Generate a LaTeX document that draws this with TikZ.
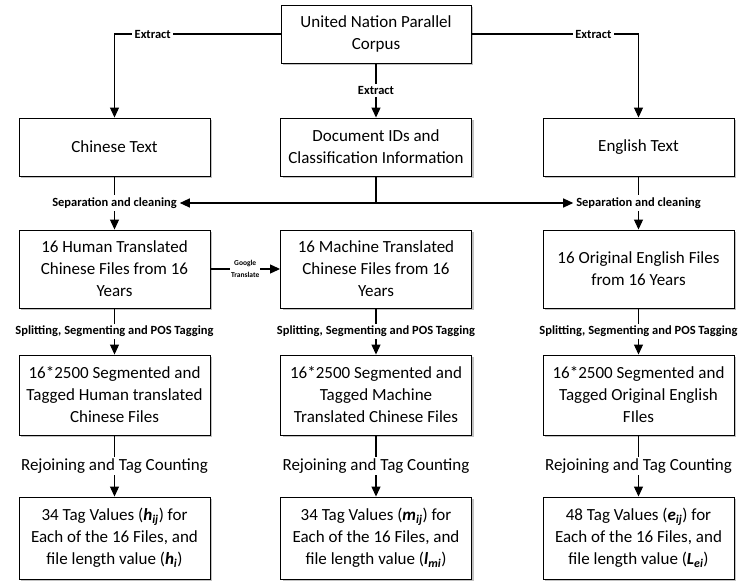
\documentclass[tikz,border=0pt]{standalone}
\usepackage{fontspec}
\setmainfont{Carlito}
\usetikzlibrary{arrows.meta,shadows}
\newcommand{\vsub}[2]{\textbf{\textit{#1}\textsubscript{\textit{#2}}}}
\begin{document}
\begin{tikzpicture}[x=1pt,y=-1pt,
  box/.style={draw, line width=0.9pt, fill=white, align=center, minimum width=191pt,
    inner sep=2pt, font=\fontsize{17}{22}\selectfont,
    drop shadow={shadow xshift=2pt, shadow yshift=-2pt, fill=black!40, opacity=0.6}},
  lbl/.style={fill=white, inner sep=2.5pt, font=\bfseries\fontsize{12.5}{14}\selectfont},
  rlbl/.style={fill=white, inner sep=2pt, font=\fontsize{17}{20}\selectfont},
  glbl/.style={fill=white, inner sep=1pt, align=center, font=\bfseries\fontsize{7.5}{11.5}\selectfont},
  conn/.style={line width=1.1pt},
  arr/.style={conn, -{Triangle[length=10pt,width=9pt]}}]
\useasboundingbox (0,0) rectangle (747,588);
% nodes
\node[box, minimum width=190pt, minimum height=58pt] (top) at (376,34) {United Nation Parallel\\Corpus};
\node[box, minimum height=58pt] (cn)  at (114.5,147) {Chinese Text};
\node[box, minimum height=58pt] (doc) at (376,147)   {Document IDs and\\Classification Information};
\node[box, minimum height=58pt] (en)  at (638.5,147) {English Text};
\node[box, minimum height=78pt] (ht) at (114.5,269) {16 Human Translated\\Chinese Files from 16\\Years};
\node[box, minimum height=78pt] (mt) at (376,269)   {16 Machine Translated\\Chinese Files from 16\\Years};
\node[box, minimum height=78pt] (oe) at (638.5,269) {16 Original English Files\\from 16 Years};
\node[box, minimum height=80pt] (hs) at (114.5,395) {16*2500 Segmented and\\Tagged Human translated\\Chinese Files};
\node[box, minimum height=80pt] (ms) at (376,395)   {16*2500 Segmented and\\Tagged Machine\\Translated Chinese Files};
\node[box, minimum height=80pt] (es) at (638.5,395) {16*2500 Segmented and\\Tagged Original English\\FIles};
\node[box, minimum height=82pt] (hv) at (114.5,538) {34 Tag Values (\vsub{h}{ij}) for\\Each of the 16 Files, and\\file length value (\vsub{h}{i})};
\node[box, minimum height=82pt] (mv) at (376,538)   {34 Tag Values (\vsub{m}{ij}) for\\Each of the 16 Files, and\\file length value (\vsub{l}{mi})};
\node[box, minimum height=82pt] (ev) at (638.5,538) {48 Tag Values (\vsub{e}{ij}) for\\Each of the 16 Files, and\\file length value (\vsub{L}{ei})};
% extract
\draw[arr] (top.west) -| node[lbl, pos=0.385] {Extract} (cn.north);
\draw[arr] (top.east) -| node[lbl, pos=0.365] {Extract} (en.north);
\draw[arr] (top.south) -- node[lbl] {Extract} (doc.north);
% separation
\draw[arr] (cn.south) -- node[lbl] (sepL) {Separation and cleaning} (ht.north);
\draw[arr] (en.south) -- node[lbl] (sepR) {Separation and cleaning} (oe.north);
\draw[conn] (doc.south) -- (doc.south |- sepL.center) coordinate (j);
\draw[arr] (j) -- (sepL.east);
\draw[arr] (j) -- (sepR.west);
% google translate
\draw[arr] (ht.east) -- node[glbl] {Google\\Translate} (mt.west);
% splitting
\draw[arr] (ht.south) -- node[lbl] {Splitting, Segmenting and POS Tagging} (hs.north);
\draw[arr] (mt.south) -- node[lbl] {Splitting, Segmenting and POS Tagging} (ms.north);
\draw[arr] (oe.south) -- node[lbl] {Splitting, Segmenting and POS Tagging} (es.north);
% rejoining
\draw[arr] (hs.south) -- node[rlbl] {Rejoining and Tag Counting} (hv.north);
\draw[arr] (ms.south) -- node[rlbl] {Rejoining and Tag Counting} (mv.north);
\draw[arr] (es.south) -- node[rlbl] {Rejoining and Tag Counting} (ev.north);
\end{tikzpicture}
\end{document}
